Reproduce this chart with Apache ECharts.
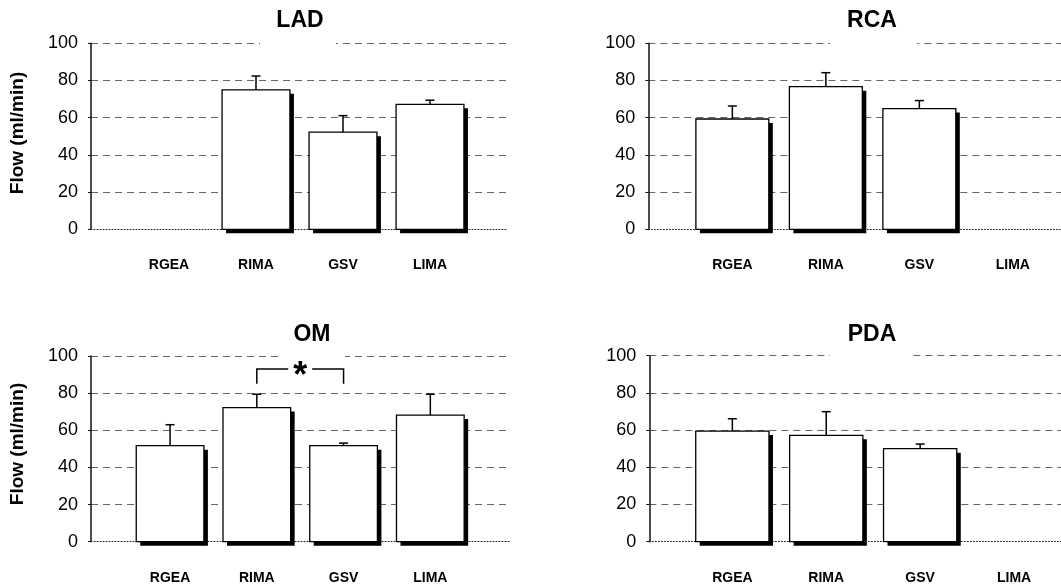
<!DOCTYPE html>
<html>
<head>
<meta charset="utf-8">
<script src="https://cdn.jsdelivr.net/npm/echarts@6/dist/echarts.min.js"></script>
<style>
  html, body { margin: 0; padding: 0; background: #fff; }
  #chart { width: 1061px; height: 586px; }
</style>
</head>
<body>
<div id="chart"></div>
<script>
const categories = ['RGEA', 'RIMA', 'GSV', 'LIMA'];
const yTicks = [0, 20, 40, 60, 80, 100];

// mean flow and error (ml/min), null = no graft
const ladMean = [null, 75, 52.2, 67.2];
const ladErr = [null, 7.4, 8.9, 2.2];
const rcaMean = [59.3, 76.7, 64.9, null];
const rcaErr = [7, 7.5, 4.3, null];
const omMean = [51.7, 72.2, 51.7, 68.2];
const omErr = [11.3, 7.2, 1.4, 11.2];
const pdaMean = [59.5, 57.2, 50, null];
const pdaErr = [6.6, 12.7, 2.5, null];

// OM significance bracket: from category, to category, level, leg end
const omBracket = [1, 2, 93, 85];

const FONT = 'Liberation Sans, Arial, sans-serif';

const panels = [
    { name: 'LAD', mean: ladMean, err: ladErr, axisX: 91, top: 43.3, bottom: 229.3, innerL: 125.5, innerW: 348, right: 508, titleX: 300, titleY: 21, gap: [260, 336], yNameY: 133 },
    { name: 'RCA', mean: rcaMean, err: rcaErr, axisX: 648.3, top: 43.3, bottom: 229.3, innerL: 685.6, innerW: 374, right: 1061, titleX: 872, titleY: 21, gap: [830, 917] },
    { name: 'OM', mean: omMean, err: omErr, axisX: 91, top: 356, bottom: 541.7, innerL: 126.7, innerW: 347, right: 510, titleX: 312, titleY: 335, gap: [280, 345], yNameY: 444 },
    { name: 'PDA', mean: pdaMean, err: pdaErr, axisX: 649.3, top: 355.7, bottom: 541.7, innerL: 685.4, innerW: 379, right: 1061, titleX: 872, titleY: 335, gap: [830, 912] }
];

const renderBar = (params, api) => {
    const idx = api.value(0);
    const v = api.value(1);
    const e = api.value(2);
    const top = api.coord([idx, v]);
    const base = api.coord([idx, 0]);
    const errTop = api.coord([idx, v + e]);
    const w = api.size([1, 0])[0] * 0.78;
    const x = top[0] - w / 2;
    const h = base[1] - top[1];
    return {
        type: 'group',
        children: [
            { type: 'rect', shape: { x: x + 4, y: top[1] + 4, width: w, height: h }, style: { fill: '#000' } },
            { type: 'rect', shape: { x: x, y: top[1], width: w, height: h }, style: { fill: '#fff', stroke: '#000', lineWidth: 1.3 } },
            { type: 'line', shape: { x1: top[0], y1: top[1], x2: top[0], y2: errTop[1] }, style: { stroke: '#000', lineWidth: 1.5 } },
            { type: 'line', shape: { x1: top[0] - 4.5, y1: errTop[1], x2: top[0] + 4.5, y2: errTop[1] }, style: { stroke: '#000', lineWidth: 1.5 } }
        ]
    };
};

const renderBracket = (params, api) => {
    const a = api.coord([api.value(0), api.value(2)]);
    const b = api.coord([api.value(1), api.value(2)]);
    const legY = api.coord([api.value(0), api.value(3)])[1];
    const mid = (a[0] + b[0]) / 2;
    const half = 12;
    const ls = { stroke: '#000', lineWidth: 1.5, fill: null };
    return {
        type: 'group',
        children: [
            { type: 'polyline', shape: { points: [[a[0], legY], [a[0], a[1]], [mid - half, a[1]]] }, style: ls },
            { type: 'polyline', shape: { points: [[mid + half, b[1]], [b[0], b[1]], [b[0], legY]] }, style: ls },
            { type: 'text', x: mid, y: a[1] + 8, style: { text: '*', font: 'bold 36px ' + FONT, fill: '#000', align: 'center', verticalAlign: 'middle' } }
        ]
    };
};

const grid = [];
const xAxis = [];
const yAxis = [];
const series = [];
const graphic = [];

panels.forEach((p, i) => {
    const h = p.bottom - p.top;
    grid.push({ left: p.axisX, top: p.top, width: p.right - p.axisX, height: h });
    grid.push({ left: p.innerL, top: p.top, width: p.innerW, height: h });

    xAxis.push({
        gridIndex: 2 * i, type: 'value', min: 0, max: 1,
        axisLine: { show: true, onZero: false, lineStyle: { color: '#222', width: 1, type: [1, 2] } },
        axisTick: { show: false }, axisLabel: { show: false }, splitLine: { show: false }
    });
    xAxis.push({
        gridIndex: 2 * i + 1, type: 'category', data: categories, boundaryGap: true,
        axisLine: { show: false }, axisTick: { show: false }, splitLine: { show: false },
        axisLabel: { show: true, margin: 29, fontSize: 14, fontWeight: 'bold', fontFamily: FONT, color: '#000' }
    });
    yAxis.push({
        gridIndex: 2 * i, type: 'value', min: yTicks[0], max: yTicks[yTicks.length - 1], interval: 20,
        axisLine: { show: true, lineStyle: { color: '#111', width: 1.5 } },
        axisTick: { show: true, length: 3, lineStyle: { color: '#111' } },
        axisLabel: { show: true, margin: 13, fontSize: 18, fontFamily: FONT, color: '#000' },
        splitLine: { show: true, showMinLine: false, lineStyle: { color: '#666', width: 1, type: [7, 5] } }
    });
    yAxis.push({
        gridIndex: 2 * i + 1, type: 'value', min: 0, max: 100, show: false
    });

    const data = [];
    categories.forEach((c, k) => {
        if (p.mean[k] != null) data.push([k, p.mean[k], p.err[k]]);
    });
    series.push({
        type: 'custom', name: p.name, xAxisIndex: 2 * i + 1, yAxisIndex: 2 * i + 1,
        renderItem: renderBar, data: data, z: 5, animation: false, silent: true
    });

    graphic.push({
        type: 'rect', z: 100, silent: true,
        shape: { x: p.gap[0], y: p.top - 4, width: p.gap[1] - p.gap[0], height: 8 },
        style: { fill: '#fff' }
    });
    graphic.push({
        type: 'text', z: 101, x: p.titleX, y: p.titleY, silent: true,
        style: { text: p.name, font: 'bold 23px ' + FONT, fill: '#000', align: 'center', verticalAlign: 'middle' }
    });
    if (p.yNameY) {
        graphic.push({
            type: 'text', z: 101, x: 18, y: p.yNameY, rotation: Math.PI / 2, silent: true,
            style: { text: 'Flow (ml/min)', font: 'bold 19px ' + FONT, fill: '#000', align: 'center', verticalAlign: 'middle' }
        });
    }
});

series.push({
    type: 'custom', name: 'sig', xAxisIndex: 5, yAxisIndex: 5,
    renderItem: renderBracket, data: [omBracket], z: 6, animation: false, silent: true
});

const myChart = echarts.init(document.getElementById('chart'));
myChart.setOption({
    backgroundColor: '#fff',
    animation: false,
    grid: grid,
    xAxis: xAxis,
    yAxis: yAxis,
    series: series,
    graphic: graphic
});
</script>
</body>
</html>
